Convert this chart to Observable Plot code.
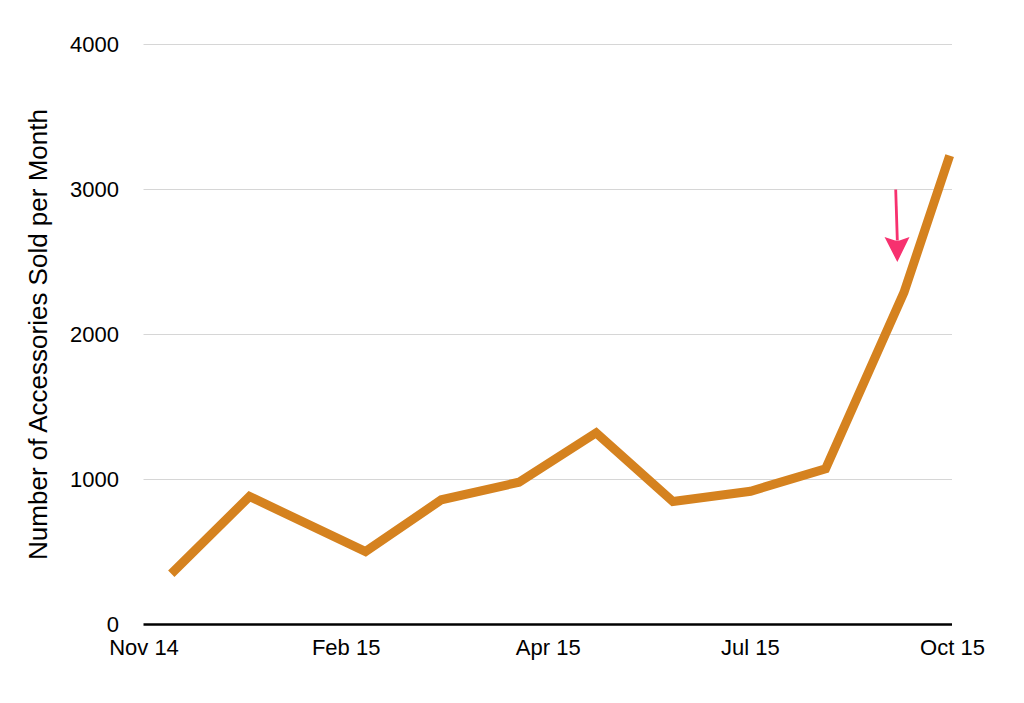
<!DOCTYPE html>
<html>
<head>
<meta charset="utf-8">
<script src="https://cdn.jsdelivr.net/npm/d3@7"></script>
<script src="https://cdn.jsdelivr.net/npm/@observablehq/plot@0.6"></script>
<style>
  html, body { margin: 0; padding: 0; background: #ffffff; overflow: hidden; }
  #chart svg { display: block; }
</style>
</head>
<body>
<div id="chart"></div>
<script>
// ---- data ----
const tickLabels = ["Nov 14", "Feb 15", "Apr 15", "Jul 15", "Oct 15"];
const tickPositions = [0, 1, 2, 3, 4];
// position of each monthly point along the (label-unit) time axis
const xPos = [0.135, 0.522, 1.096, 1.471, 1.855, 2.237, 2.617, 3.001, 3.372, 3.760, 3.986];
const sales = [350, 883, 503, 860, 981, 1322, 848, 919, 1074, 2290, 3234];
const yTicks = [0, 1000, 2000, 3000, 4000];
const yTitle = "Number of Accessories Sold per Month";
// annotation arrow (data coordinates)
const arrowX = [3.719, 3.727];
const arrowY = [3000, 2500];

const series = xPos.map((x, i) => ({x, value: sales[i]}));
const arrowShaft = [{x1: arrowX[0], y1: arrowY[0], x2: arrowX[1], y2: 2650}];
const arrowTip = [{x: arrowX[1], y: arrowY[1]}];

const arrowHead = {
  draw(ctx) {
    ctx.moveTo(0, 0);
    ctx.lineTo(-12.8, -25);
    ctx.lineTo(-2.2, -21.5);
    ctx.lineTo(2.2, -21.5);
    ctx.lineTo(12.2, -25);
    ctx.closePath();
  }
};

const font = "'Liberation Sans', Helvetica, Arial, sans-serif";

const chart = Plot.plot({
  width: 1024,
  height: 703,
  marginLeft: 143.5,
  marginRight: 72,
  marginTop: 44,
  marginBottom: 79,
  style: {fontFamily: font, fontSize: "22px", color: "#000", background: "#fff"},
  x: {
    type: "linear",
    domain: [0, 4],
    ticks: tickPositions,
    tickFormat: i => tickLabels[i],
    tickSize: 0,
    tickPadding: 15,
    label: null
  },
  y: {
    domain: [0, 4000],
    ticks: yTicks,
    tickFormat: d => String(d),
    tickSize: 0,
    tickPadding: 25,
    label: null
  },
  marks: [
    Plot.ruleY(yTicks.filter(d => d > 0), {stroke: "#d6d6d6", strokeWidth: 1}),
    Plot.ruleY([0], {stroke: "#000", strokeWidth: 2.5}),
    Plot.line(series, {
      x: "x", y: "value",
      stroke: "#d5821f", strokeWidth: 9,
      strokeLinejoin: "miter", strokeLinecap: "butt", strokeMiterlimit: 10
    }),
    Plot.link(arrowShaft, {
      x1: "x1", y1: "y1", x2: "x2", y2: "y2",
      stroke: "#f7316f", strokeWidth: 2.8, strokeLinecap: "butt"
    }),
    Plot.dot(arrowTip, {
      x: "x", y: "y", symbol: arrowHead, r: 10,
      fill: "#f7316f", stroke: "none"
    }),
    Plot.text([yTitle], {
      text: d => d,
      frameAnchor: "left",
      rotate: -90,
      dx: -97.5,
      lineAnchor: "bottom",
      textAnchor: "middle",
      fontSize: 26,
      fill: "#000"
    })
  ]
});

document.getElementById("chart").appendChild(chart);
</script>
</body>
</html>
